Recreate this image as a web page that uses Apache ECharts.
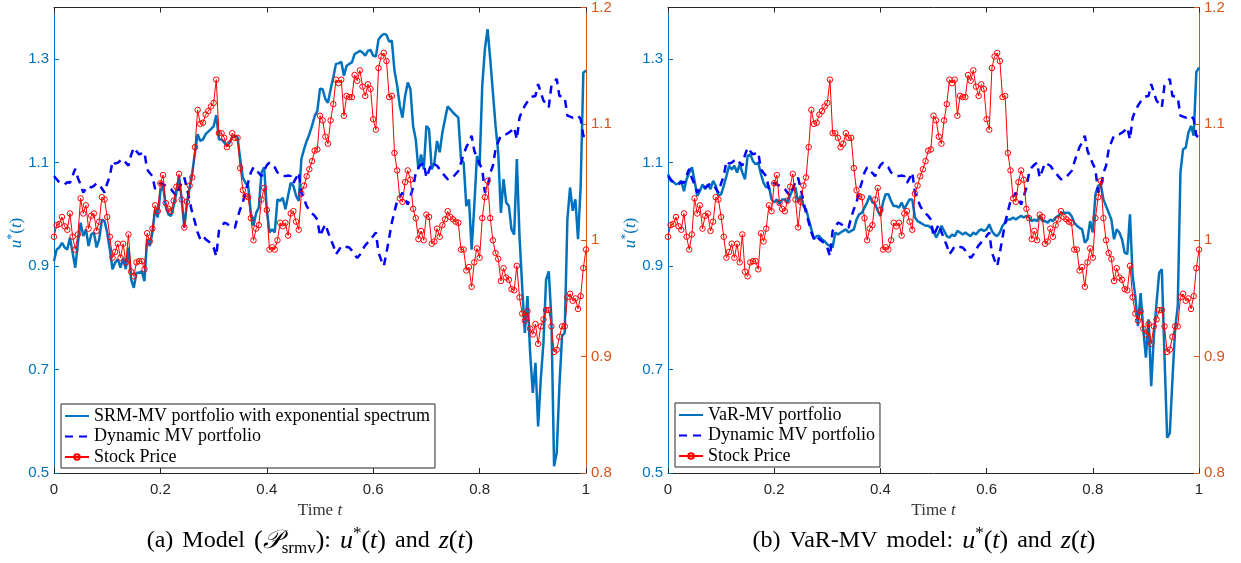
<!DOCTYPE html>
<html><head><meta charset="utf-8">
<script src="https://cdn.jsdelivr.net/npm/echarts@6/dist/echarts.min.js"></script>
<style>html,body{margin:0;padding:0;background:#fff}#c{width:1241px;height:563px}</style>
</head><body><div id="c"></div><script>
// Stock price z(t) (right axis), sampled every 0.005
const stockPrice = [1.003,1.013,1.014,1.020,1.012,1.009,1.023,1.003,0.992,1.005,
1.036,1.023,1.030,1.010,1.021,1.023,1.008,1.016,1.037,1.035,
1.020,1.003,0.985,0.990,0.997,0.985,0.997,0.981,1.005,0.973,
0.969,0.981,0.982,0.982,0.975,1.006,0.999,1.010,1.030,1.025,
1.049,1.056,1.032,1.027,1.025,1.034,1.046,1.057,1.035,1.011,
1.033,1.047,1.054,1.080,1.112,1.100,1.101,1.108,1.111,1.115,
1.118,1.138,1.092,1.092,1.088,1.080,1.083,1.092,1.088,1.088,
1.062,1.043,1.038,1.037,1.019,1.000,1.010,1.013,1.035,1.045,
1.026,0.992,0.994,0.992,1.000,1.015,1.012,1.015,1.004,1.023,
1.025,1.016,1.009,1.040,1.047,1.055,1.061,1.068,1.077,1.078,
1.107,1.103,1.089,1.083,1.103,1.117,1.138,1.135,1.138,1.107,
1.124,1.123,1.123,1.142,1.137,1.146,1.132,1.124,1.134,1.130,
1.104,1.095,1.148,1.158,1.161,1.154,1.123,1.124,1.075,1.060,
1.036,1.033,1.050,1.060,1.052,1.027,1.019,1.001,1.008,1.000,
1.022,1.020,0.997,0.999,1.010,1.003,1.013,1.018,1.025,1.020,
1.018,1.016,1.015,0.992,0.992,0.974,0.977,0.960,0.981,0.993,
0.985,1.019,1.037,1.051,1.019,1.000,0.989,0.984,0.965,0.976,
0.968,0.966,0.958,0.957,0.978,0.951,0.937,0.931,0.939,0.924,
0.919,0.928,0.911,0.926,0.932,0.940,0.940,0.926,0.904,0.906,
0.917,0.926,0.926,0.951,0.954,0.948,0.950,0.941,0.952,0.976,
0.992];
// Dynamic MV portfolio u*(t) (left axis)
const dynamicMV = [1.074,1.068,1.062,1.060,1.058,1.062,1.061,1.075,1.088,1.070,
1.058,1.042,1.050,1.055,1.052,1.055,1.060,1.058,1.050,1.042,
1.060,1.074,1.103,1.098,1.100,1.104,1.107,1.100,1.094,1.115,
1.129,1.122,1.116,1.118,1.120,1.087,1.080,1.074,1.049,1.055,
1.061,1.058,1.055,1.052,1.049,1.042,1.036,1.050,1.062,1.071,
1.050,1.025,1.003,0.985,0.965,0.952,0.958,0.952,0.948,0.944,
0.936,0.919,0.968,0.975,0.984,0.982,0.978,0.976,0.974,0.994,
1.010,1.023,1.045,1.062,1.081,1.091,1.084,1.080,1.074,1.085,
1.095,1.100,1.095,1.091,1.081,1.078,1.074,1.074,1.075,1.074,
1.061,1.070,1.081,1.042,1.030,1.016,1.008,1.002,0.997,0.990,
0.958,0.970,0.981,0.966,0.952,0.940,0.923,0.930,0.939,0.938,
0.937,0.936,0.930,0.922,0.916,0.922,0.932,0.940,0.946,0.952,
0.958,0.965,0.926,0.912,0.900,0.926,0.955,0.984,1.005,1.026,
1.034,1.042,1.030,1.019,1.035,1.052,1.080,1.091,1.096,1.100,
1.071,1.085,1.100,1.097,1.094,1.087,1.080,1.074,1.068,1.068,
1.072,1.078,1.084,1.100,1.116,1.130,1.139,1.152,1.123,1.110,
1.098,1.087,1.042,1.052,1.080,1.094,1.126,1.140,1.152,1.154,
1.155,1.158,1.162,1.168,1.145,1.187,1.200,1.210,1.218,1.226,
1.228,1.229,1.252,1.236,1.220,1.214,1.207,1.249,1.256,1.262,
1.229,1.228,1.226,1.191,1.189,1.187,1.189,1.191,1.184,1.152,
1.149];
// SRM-MV portfolio with exponential spectrum (left axis, panel a)
const srmMV = [0.910,0.932,0.936,0.945,0.936,0.932,0.955,0.926,0.897,0.945,
0.984,0.958,0.971,0.939,0.961,0.965,0.936,0.952,0.990,0.987,
0.965,0.932,0.894,0.907,0.913,0.897,0.916,0.894,0.936,0.874,
0.858,0.887,0.887,0.890,0.871,0.952,0.939,0.965,1.010,0.994,
1.045,1.055,1.016,1.000,0.997,1.016,1.042,1.074,1.029,0.974,
1.023,1.052,1.081,1.120,1.155,1.142,1.145,1.155,1.160,1.165,
1.170,1.192,1.145,1.145,1.139,1.132,1.139,1.149,1.152,1.149,
1.107,1.071,1.061,1.055,1.003,0.978,1.003,1.013,1.081,1.091,
1.010,0.965,0.971,0.965,1.029,1.026,1.032,1.010,1.036,1.061,
1.055,1.036,1.026,1.107,1.126,1.142,1.155,1.171,1.190,1.200,
1.243,1.242,1.223,1.216,1.242,1.265,1.291,1.292,1.295,1.268,
1.287,1.291,1.294,1.310,1.313,1.316,1.313,1.307,1.316,1.318,
1.307,1.305,1.338,1.345,1.349,1.347,1.334,1.336,1.278,1.249,
1.210,1.187,1.229,1.255,1.242,1.171,1.145,1.087,1.116,1.087,
1.171,1.165,1.087,1.100,1.142,1.120,1.158,1.184,1.209,1.203,
1.197,1.192,1.187,1.107,1.100,1.016,1.029,0.932,1.016,1.113,
1.094,1.249,1.320,1.358,1.300,1.236,1.171,1.120,1.003,1.068,
1.023,1.016,0.971,0.961,1.107,0.958,0.861,0.771,0.842,0.732,
0.655,0.713,0.590,0.681,0.752,0.874,0.890,0.797,0.513,0.539,
0.668,0.765,0.771,0.990,1.052,1.007,1.029,0.952,1.055,1.274,
1.278];
// VaR-MV portfolio (left axis, panel b)
const varMV = [1.078,1.065,1.063,1.058,1.060,1.065,1.045,1.068,1.081,1.091,
1.065,1.036,1.045,1.058,1.049,1.058,1.049,1.065,1.055,1.036,
1.039,1.055,1.074,1.094,1.087,1.094,1.081,1.097,1.081,1.068,
1.113,1.116,1.103,1.097,1.100,1.078,1.061,1.052,1.055,1.029,
1.023,1.029,1.020,1.029,1.029,1.023,1.036,1.049,1.052,1.023,
1.036,1.016,1.010,0.990,0.971,0.952,0.958,0.958,0.952,0.948,
0.942,0.939,0.936,0.965,0.961,0.965,0.968,0.971,0.965,0.968,
0.971,0.990,1.000,1.003,1.013,1.023,1.036,1.023,1.020,1.007,
0.997,1.023,1.039,1.039,1.026,1.016,1.016,1.013,1.023,1.010,
1.020,1.029,1.029,0.994,0.987,0.984,0.981,0.978,0.978,0.974,
0.968,0.955,0.965,0.978,0.968,0.958,0.955,0.961,0.958,0.968,
0.965,0.961,0.965,0.961,0.958,0.965,0.961,0.968,0.971,0.968,
0.971,0.981,0.968,0.961,0.958,0.965,0.978,0.984,0.990,0.990,
0.994,0.990,0.994,0.997,0.994,0.997,0.994,0.987,0.990,0.987,
0.997,0.987,0.987,0.984,0.990,0.987,0.994,0.997,1.003,1.003,
1.003,1.003,0.997,0.984,0.978,0.974,0.971,0.945,0.952,0.987,
0.965,1.039,1.055,1.058,1.029,1.016,1.003,0.990,0.952,0.971,
0.965,0.952,0.926,0.923,1.000,0.881,0.842,0.784,0.848,0.778,
0.723,0.797,0.668,0.765,0.829,0.887,0.894,0.726,0.568,0.577,
0.681,0.778,0.823,1.081,1.126,1.129,1.158,1.171,1.152,1.275,
1.284];
const legendA = ['SRM-MV portfolio with exponential spectrum','Dynamic MV portfolio','Stock Price'];
const legendB = ['VaR-MV portfolio','Dynamic MV portfolio','Stock Price'];
const time = stockPrice.map((_, i) => i / 200);
const pairs = arr => arr.map((v, i) => [time[i], v]);

const SERIF = 'Liberation Serif';
const SANS = 'Liberation Sans';
const BLUE = '#0072BD', DBLUE = '#0000FF', RED = '#FF0000', ORANGE = '#D95319', AX = '#262626';

function xAx(gi, pos) {
  const o = {type:'value', gridIndex:gi, min:0, max:1, interval:0.2, position:pos,
    axisLine:{show:true, onZero:false, lineStyle:{color:AX, width:1}},
    axisTick:{show:true, inside:true, length:5, lineStyle:{color:AX}},
    axisLabel:{show:pos==='bottom', color:AX, fontSize:15, fontFamily:SANS, margin:9},
    splitLine:{show:false}};
  if (pos === 'bottom') {
    o.name = '{r|Time }{i|t}';
    o.nameLocation = 'middle';
    o.nameGap = 20;
    o.nameTextStyle = {rich:{r:{fontFamily:SERIF, fontSize:17, color:'#333'}, i:{fontFamily:SERIF, fontSize:17, fontStyle:'italic', color:'#333'}}};
  }
  return o;
}
function yLeft(gi) {
  return {type:'value', gridIndex:gi, position:'left', min:0.5, max:1.4, interval:0.2,
    axisLine:{show:true, onZero:false, lineStyle:{color:BLUE, width:1}},
    axisTick:{show:true, inside:true, length:5, lineStyle:{color:BLUE}},
    axisLabel:{color:BLUE, fontSize:15, fontFamily:SANS, margin:5, showMaxLabel:false,
      formatter: v => (v > 1.35 ? '' : String(+v.toFixed(2)))},
    splitLine:{show:false}};
}
function yRight(gi) {
  return {type:'value', gridIndex:gi, position:'right', min:0.8, max:1.2, interval:0.1,
    axisLine:{show:true, onZero:false, lineStyle:{color:ORANGE, width:1}},
    axisTick:{show:true, inside:true, length:5, lineStyle:{color:ORANGE}},
    axisLabel:{color:ORANGE, fontSize:15, fontFamily:SANS, margin:5,
      formatter: v => String(+v.toFixed(2))},
    splitLine:{show:false}};
}
function solid(name, arr, xi, yi) {
  return {type:'line', name, data:pairs(arr), xAxisIndex:xi, yAxisIndex:yi, symbol:'none',
    lineStyle:{color:BLUE, width:2.5}, itemStyle:{color:BLUE}, z:2, silent:true};
}
function dashed(xi, yi) {
  return {type:'line', name:'Dynamic MV portfolio', data:pairs(dynamicMV), xAxisIndex:xi, yAxisIndex:yi, symbol:'none',
    lineStyle:{color:DBLUE, width:2.5, type:[8,6]}, itemStyle:{color:DBLUE}, z:3, silent:true};
}
function stock(xi, yi) {
  return {type:'line', name:'Stock Price', data:pairs(stockPrice), xAxisIndex:xi, yAxisIndex:yi,
    symbol:'circle', symbolSize:5.5, showSymbol:true,
    lineStyle:{color:RED, width:1}, itemStyle:{color:'rgba(255,255,255,0)', borderColor:RED, borderWidth:1}, z:4, silent:true};
}
const noMarker = {color:'rgba(0,0,0,0)', borderColor:'rgba(0,0,0,0)', borderWidth:0, opacity:0};
function legend(left, top, names) {
  return {orient:'vertical', left, top, padding:[3,5,2,3], itemGap:2.5, itemWidth:24, itemHeight:7, itemTextGap:2,
    backgroundColor:'#fff', borderColor:AX, borderWidth:1, borderRadius:0, selectedMode:false,
    textStyle:{fontFamily:SERIF, fontSize:18, color:'#000'},
    data:[{name:names[0], itemStyle:noMarker}, {name:names[1], itemStyle:noMarker}, {name:names[2]}]};
}
function yLabel(x) {
  const tok = (extra) => Object.assign({fontFamily:SERIF, fontSize:17, fill:BLUE, color:BLUE, lineHeight:22}, extra);
  return {type:'text', x, y:233, rotation:Math.PI/2,
    style:{text:'{i|u}{s|*}{n|(}{i|t}{n|)}', align:'center', verticalAlign:'middle', fill:BLUE,
      rich:{i:tok({fontStyle:'italic'}), n:tok({}), s:tok({fontSize:12, lineHeight:12, verticalAlign:'top'})}}};
}
function caption(x, text) {
  const base = {fontFamily:SERIF, fontSize:24, fill:'#000', color:'#000', lineHeight:32};
  const math = Object.assign({}, base, {fontSize:26});
  return {type:'text', x, y:541,
    style:{text, align:'center', verticalAlign:'middle', fill:'#000',
      rich:{n:base, m:math, i:Object.assign({}, math, {fontStyle:'italic'}),
        p:Object.assign({}, math, {fontStyle:'italic'}),
        sp:Object.assign({}, base, {width:9}),
        sub:Object.assign({}, base, {fontSize:17, lineHeight:17, verticalAlign:'bottom'}),
        sup:Object.assign({}, base, {fontSize:17, lineHeight:16, verticalAlign:'top'})}}};
}

const chart = echarts.init(document.getElementById('c'), null, {renderer:'canvas'});
chart.setOption({
  animation:false,
  backgroundColor:'#fff',
  grid:[{left:54, top:7, width:532, height:466}, {left:668, top:7, width:531, height:466}],
  xAxis:[xAx(0,'bottom'), xAx(1,'bottom'), xAx(0,'top'), xAx(1,'top')],
  yAxis:[yLeft(0), yRight(0), yLeft(1), yRight(1)],
  legend:[legend(61, 404, legendA), legend(675, 403, legendB)],
  series:[
    solid(legendA[0], srmMV, 0, 0), dashed(0, 0), stock(0, 1),
    solid(legendB[0], varMV, 1, 2), dashed(1, 2), stock(1, 3)
  ],
  graphic:[
    yLabel(17), yLabel(631),
    caption(310, '{n|(a)}{sp| }{n|Model}{sp| }{m|(}{p|𝒫}{sub|srmv}{m|)}{n|:}{sp| }{i|u}{sup|*}{m|(}{i|t}{m|)}{sp| }{n|and}{sp| }{i|z}{m|(}{i|t}{m|)}'),
    caption(924, '{n|(b)}{sp| }{n|VaR-MV}{sp| }{n|model:}{sp| }{i|u}{sup|*}{m|(}{i|t}{m|)}{sp| }{n|and}{sp| }{i|z}{m|(}{i|t}{m|)}')
  ]
});
</script></body></html>
